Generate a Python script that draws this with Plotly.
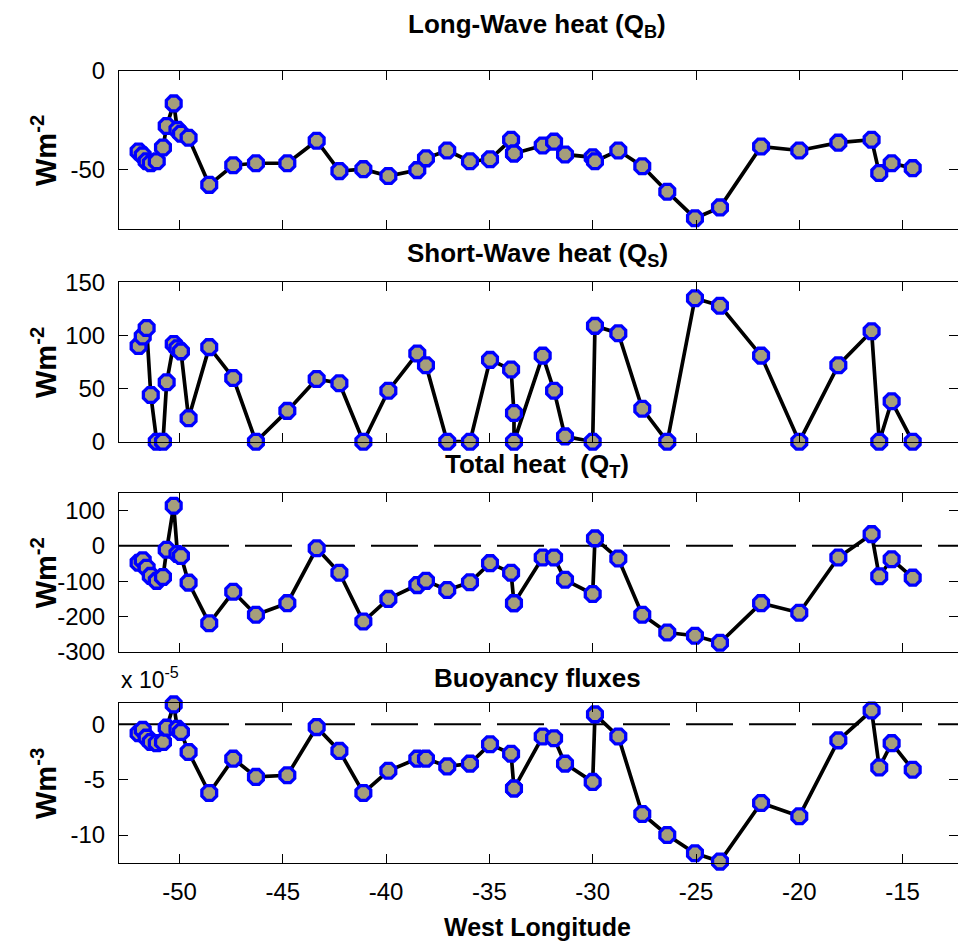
import plotly.graph_objects as go

# ---------------- data ----------------
lon = [-51.98, -51.78, -51.59, -51.39, -51.10, -50.80, -50.62, -50.28, -50.10, -49.93,
       -49.56, -48.56, -47.40, -46.30, -44.78, -43.36, -42.26, -41.10, -39.89, -38.49,
       -38.07, -37.04, -35.94, -34.97, -33.95, -33.81, -33.81, -32.42, -31.87, -31.34,
       -30.00, -29.89, -28.76, -27.60, -26.39, -25.05, -23.84, -21.85, -20.00, -18.11,
       -16.50, -16.13, -15.53, -14.51]

long_wave = [-41, -43, -46, -47, -46, -39, -28, -16.5, -30, -32,
             -34, -58, -48, -47, -47, -35.5, -51, -50, -53.5, -50.5,
             -44.5, -40.5, -46, -45, -35, -42, -42, -38, -36, -42.5,
             -44, -46, -40.5, -48.5, -61.5, -75, -69.5, -38.5, -40.5, -36.5,
             -35, -52, -47, -49.5]

short_wave = [90, 99, 107, 44, 0, 0, 56, 92, 88, 85,
              22, 89, 60, 0, 29, 59, 55, 0, 48, 83,
              72, 0, 0, 77, 68, 27, 0, 81, 48, 5,
              0, 109, 102, 31, 0, 135, 128, 81, 0, 72,
              104, 0, 38, 0]

total_heat = [-48, -41, -62, -85, -99, -88, -11, 113, -23, -29,
              -104, -219, -130, -195, -162, -7, -76, -214, -150, -111,
              -99, -125, -103, -49, -76, -162, -162, -33, -33, -96,
              -136, 21, -36, -195, -245, -254, -274, -162, -189, -33,
              33, -86, -38, -90]

# buoyancy flux in units of 1e-5 W m^-3
buoyancy_e5 = [-0.8, -0.5, -1.2, -1.6, -1.7, -1.6, -0.3, 1.8, -0.4, -0.7,
               -2.5, -6.2, -3.1, -4.75, -4.6, -0.25, -2.4, -6.2, -4.2, -3.1,
               -3.1, -3.8, -3.55, -1.8, -2.65, -5.8, -5.8, -1.1, -1.25, -3.55,
               -5.2, 0.9, -1.1, -8.1, -10, -11.65, -12.4, -7.1, -8.3, -1.45,
               1.25, -3.9, -1.7, -4.1]

titles = ["Long-Wave heat (Q<sub>B</sub>)", "Short-Wave heat (Q<sub>S</sub>)",
          "Total heat  (Q<sub>T</sub>)", "Buoyancy fluxes"]
ylabels = ["Wm<sup>-2</sup>", "Wm<sup>-2</sup>", "Wm<sup>-2</sup>", "Wm<sup>-3</sup>"]
yranges = [[-80.5, 0], [0, 150], [-300, 150], [-12.5, 1.9]]
ytickvals = [[-50, 0], [0, 50, 100, 150], [-300, -200, -100, 0, 100], [-10, -5, 0]]
yticktext = [["-50", "0"], ["0", "50", "100", "150"],
             ["-300", "-200", "-100", "0", "100"], ["-10", "-5", "0"]]
xtickvals = [-50, -45, -40, -35, -30, -25, -20, -15]
xticktext = ["-50", "-45", "-40", "-35", "-30", "-25", "-20", "-15"]
series = [long_wave, short_wave, total_heat, buoyancy_e5]

# ---------------- layout geometry ----------------
W, H = 958, 947
def py(px):
    return 1 - px / H

x_left_px = 119
px_per_deg = 20.66
x_range = [-50 - (179.5 - x_left_px) / px_per_deg, -50 + (W - 179.5) / px_per_deg]
panel_px = [(71, 229), (282.3, 441.7), (492.7, 652), (703.3, 862.7)]
title_px = [25, 255, 465, 678]

FONT = "Liberation Sans, Arial, sans-serif"

fig = go.Figure()
layout = dict(width=W, height=H, margin=dict(l=0, r=0, t=0, b=0, autoexpand=False),
              plot_bgcolor="white", paper_bgcolor="white", showlegend=False)

annotations = []
shapes = []
for i in range(4):
    n = "" if i == 0 else str(i + 1)
    fig.add_trace(go.Scatter(
        x=lon, y=series[i], mode="lines+markers",
        xaxis="x" + n, yaxis="y" + n,
        line=dict(color="black", width=3.7),
        marker=dict(symbol="octagon", size=16, color="rgb(165,158,124)",
                    line=dict(color="rgb(0,0,255)", width=3.3)),
        cliponaxis=False))
    top, bot = panel_px[i]
    layout["xaxis" + n] = dict(
        domain=[x_left_px / W, 1.0], range=x_range, anchor="y" + n,
        tickvals=xtickvals, ticktext=xticktext, showticklabels=(i == 3),
        ticks="inside", ticklen=9, tickwidth=1, tickcolor="black",
        showline=True, linecolor="black", linewidth=1, mirror="ticks",
        showgrid=False, zeroline=False,
        tickfont=dict(family=FONT, size=24, color="black"),
        ticklabelstandoff=7)
    layout["yaxis" + n] = dict(
        domain=[py(bot), py(top)], range=yranges[i], anchor="x" + n,
        tickvals=ytickvals[i], ticktext=yticktext[i],
        ticks="inside", ticklen=9, tickwidth=1,
        tickcolor="black", showline=True, linecolor="black", linewidth=1,
        mirror="ticks", showgrid=False, zeroline=False,
        tickfont=dict(family=FONT, size=24, color="black"),
        ticklabelstandoff=8)
    annotations.append(dict(
        text="<b>" + titles[i] + "</b>", xref="paper", yref="paper",
        x=537 / W, y=py(title_px[i]), xanchor="center", yanchor="middle",
        showarrow=False, font=dict(family=FONT, size=26, color="black")))
    annotations.append(dict(
        text="<b>" + ylabels[i] + "</b>", xref="paper", yref="paper",
        x=44 / W, y=py((top + bot) / 2 + 1), xanchor="center", yanchor="middle",
        textangle=-90, showarrow=False,
        font=dict(family=FONT, size=29, color="black")))
    if i >= 2:
        shapes.append(dict(type="line", xref="x" + n + " domain", yref="y" + n,
                           x0=0, x1=1, y0=0, y1=0, layer="below",
                           line=dict(color="black", width=2, dash="47px,16px")))

annotations.append(dict(
    text="x 10<sup>-5</sup>", xref="paper", yref="paper",
    x=119 / W, y=py(678), xanchor="left", yanchor="middle", showarrow=False,
    font=dict(family=FONT, size=23, color="black")))
annotations.append(dict(
    text="<b>West Longitude</b>", xref="paper", yref="paper",
    x=537 / W, y=py(927), xanchor="center", yanchor="middle", showarrow=False,
    font=dict(family=FONT, size=25, color="black")))

layout["annotations"] = annotations
layout["shapes"] = shapes
fig.update_layout(**layout)
fig.write_html("out.html")
